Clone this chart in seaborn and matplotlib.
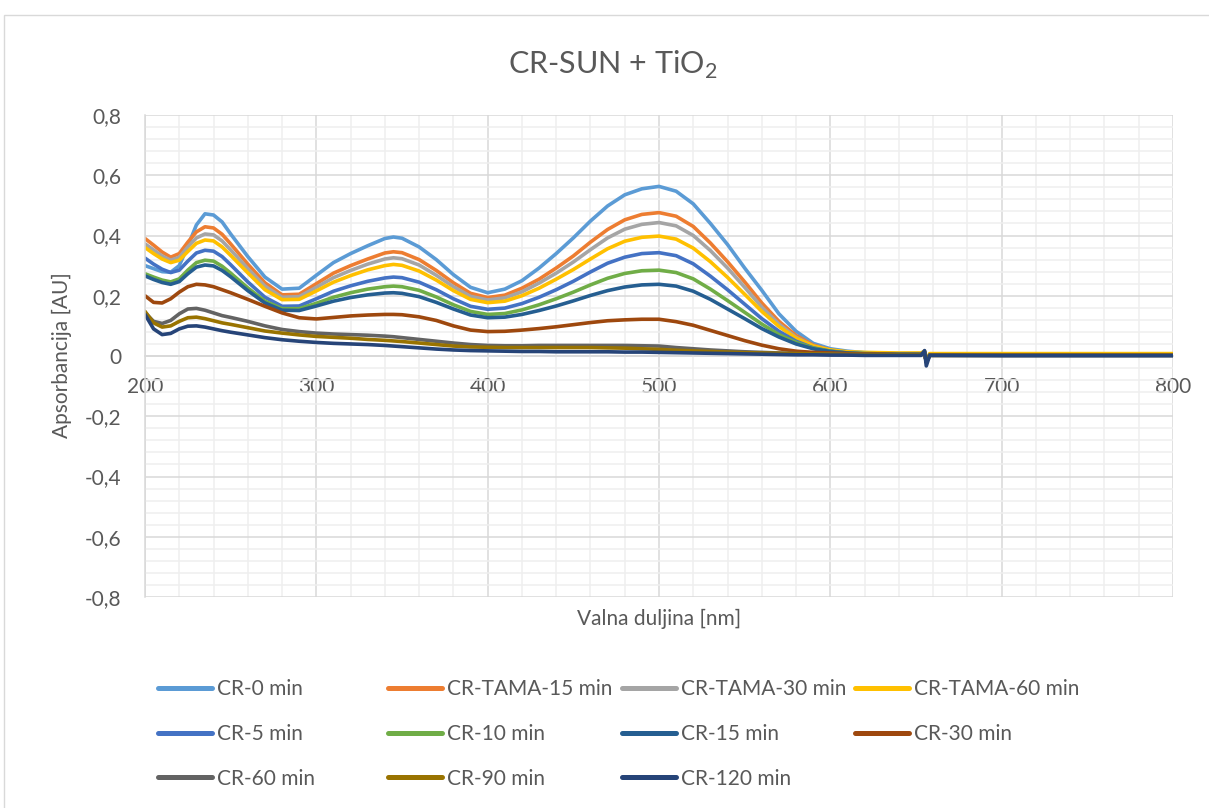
import numpy as np
import pandas as pd
import matplotlib
matplotlib.use("Agg")
import matplotlib.pyplot as plt
from matplotlib.lines import Line2D
from matplotlib.patches import Rectangle
from matplotlib.ticker import MultipleLocator, FixedLocator, FixedFormatter
import seaborn as sns

# ---------------- data ----------------
wavelength = [200, 205, 210, 215, 220, 225, 230, 235, 240, 245, 250,
              260, 270, 280, 290, 300, 310, 320, 330, 340, 345,
              350, 360, 370, 380, 390, 400, 410, 420, 430, 440, 450, 460, 470, 480, 490,
              500, 510, 520, 530, 540, 550, 560, 570, 580, 590, 600, 610, 620,
              640, 653, 655, 656, 658, 700, 750, 800]

cr_0 = [0.300, 0.290, 0.280, 0.278, 0.300, 0.365, 0.435, 0.472, 0.468, 0.445, 0.405,
        0.330, 0.262, 0.222, 0.225, 0.268, 0.310, 0.340, 0.366, 0.390, 0.395,
        0.391, 0.362, 0.320, 0.270, 0.228, 0.210, 0.222, 0.250, 0.292, 0.340, 0.392, 0.448, 0.498, 0.535, 0.555,
        0.563, 0.547, 0.505, 0.440, 0.370, 0.292, 0.218, 0.140, 0.082, 0.042, 0.024, 0.016, 0.011,
        0.008, 0.008, 0.016, -0.020, 0.006, 0.006, 0.006, 0.006]
cr_tama_15 = [0.390, 0.368, 0.345, 0.328, 0.340, 0.378, 0.412, 0.429, 0.425, 0.404, 0.372,
              0.305, 0.243, 0.203, 0.205, 0.240, 0.275, 0.300, 0.322, 0.342, 0.346,
              0.343, 0.320, 0.284, 0.243, 0.208, 0.194, 0.202, 0.225, 0.255, 0.292, 0.332, 0.378, 0.420, 0.452, 0.470,
              0.476, 0.464, 0.430, 0.375, 0.313, 0.246, 0.176, 0.115, 0.068, 0.036, 0.020, 0.012, 0.009,
              0.007, 0.007, 0.014, -0.020, 0.005, 0.005, 0.005, 0.005]
cr_tama_30 = [0.372, 0.352, 0.332, 0.318, 0.328, 0.362, 0.392, 0.405, 0.402, 0.382, 0.352,
              0.290, 0.232, 0.195, 0.197, 0.228, 0.260, 0.284, 0.305, 0.322, 0.326,
              0.323, 0.302, 0.268, 0.230, 0.198, 0.186, 0.193, 0.213, 0.242, 0.275, 0.312, 0.353, 0.392, 0.421, 0.437,
              0.443, 0.432, 0.400, 0.350, 0.292, 0.228, 0.162, 0.106, 0.062, 0.033, 0.019, 0.012, 0.009,
              0.007, 0.007, 0.014, -0.020, 0.005, 0.005, 0.005, 0.005]
cr_tama_60 = [0.360, 0.340, 0.322, 0.310, 0.318, 0.347, 0.374, 0.385, 0.382, 0.362, 0.334,
              0.276, 0.220, 0.187, 0.188, 0.216, 0.245, 0.267, 0.286, 0.300, 0.304,
              0.301, 0.282, 0.252, 0.217, 0.188, 0.177, 0.182, 0.200, 0.225, 0.255, 0.287, 0.322, 0.356, 0.381, 0.394,
              0.398, 0.388, 0.358, 0.313, 0.261, 0.205, 0.148, 0.098, 0.059, 0.033, 0.020, 0.014, 0.012,
              0.010, 0.010, 0.016, -0.015, 0.008, 0.008, 0.008, 0.008]
cr_5 = [0.325, 0.305, 0.288, 0.277, 0.285, 0.315, 0.342, 0.351, 0.348, 0.330, 0.303,
        0.246, 0.195, 0.165, 0.166, 0.190, 0.215, 0.233, 0.248, 0.259, 0.262,
        0.260, 0.245, 0.220, 0.190, 0.165, 0.155, 0.159, 0.174, 0.195, 0.220, 0.248, 0.279, 0.308, 0.328, 0.340,
        0.343, 0.333, 0.306, 0.265, 0.220, 0.172, 0.124, 0.082, 0.049, 0.027, 0.016, 0.010, 0.008,
        0.006, 0.006, 0.013, -0.020, 0.004, 0.004, 0.004, 0.004]
cr_10 = [0.273, 0.262, 0.252, 0.246, 0.256, 0.285, 0.310, 0.318, 0.315, 0.298, 0.275,
         0.226, 0.182, 0.157, 0.157, 0.175, 0.195, 0.210, 0.222, 0.230, 0.232,
         0.230, 0.218, 0.196, 0.170, 0.148, 0.138, 0.141, 0.153, 0.170, 0.190, 0.212, 0.236, 0.258, 0.274, 0.283,
         0.285, 0.277, 0.256, 0.222, 0.184, 0.145, 0.106, 0.071, 0.045, 0.026, 0.016, 0.010, 0.008,
         0.006, 0.006, 0.013, -0.020, 0.004, 0.004, 0.004, 0.004]
cr_15 = [0.266, 0.254, 0.244, 0.238, 0.247, 0.273, 0.295, 0.302, 0.299, 0.284, 0.263,
         0.217, 0.176, 0.152, 0.151, 0.166, 0.182, 0.194, 0.203, 0.209, 0.210,
         0.208, 0.197, 0.178, 0.156, 0.136, 0.127, 0.129, 0.138, 0.151, 0.166, 0.183, 0.201, 0.217, 0.229, 0.236,
         0.238, 0.232, 0.215, 0.188, 0.156, 0.124, 0.091, 0.063, 0.040, 0.024, 0.015, 0.010, 0.007,
         0.005, 0.005, 0.012, -0.020, 0.003, 0.003, 0.003, 0.003]
cr_30 = [0.200, 0.178, 0.176, 0.190, 0.212, 0.230, 0.238, 0.236, 0.230, 0.220, 0.210,
         0.188, 0.165, 0.143, 0.127, 0.123, 0.128, 0.133, 0.136, 0.138, 0.138,
         0.137, 0.130, 0.118, 0.100, 0.086, 0.081, 0.082, 0.086, 0.091, 0.097, 0.104, 0.111, 0.117, 0.120, 0.122,
         0.122, 0.114, 0.102, 0.085, 0.068, 0.051, 0.036, 0.024, 0.016, 0.012, 0.010, 0.008, 0.007,
         0.005, 0.005, 0.012, -0.020, 0.003, 0.003, 0.003, 0.003]
cr_60 = [0.144, 0.115, 0.108, 0.118, 0.140, 0.156, 0.158, 0.152, 0.143, 0.134, 0.128,
         0.115, 0.100, 0.088, 0.081, 0.076, 0.073, 0.071, 0.069, 0.066, 0.064,
         0.061, 0.055, 0.049, 0.043, 0.038, 0.035, 0.034, 0.034, 0.035, 0.035, 0.035, 0.035, 0.035, 0.035, 0.034,
         0.033, 0.028, 0.024, 0.020, 0.017, 0.014, 0.012, 0.010, 0.008, 0.007, 0.006, 0.005, 0.005,
         0.004, 0.004, 0.012, -0.020, 0.002, 0.002, 0.002, 0.002]
cr_90 = [0.148, 0.110, 0.096, 0.100, 0.115, 0.127, 0.129, 0.124, 0.117, 0.110, 0.105,
         0.094, 0.083, 0.076, 0.070, 0.065, 0.062, 0.059, 0.055, 0.052, 0.050,
         0.048, 0.043, 0.038, 0.033, 0.030, 0.029, 0.028, 0.028, 0.028, 0.028, 0.028, 0.028, 0.027, 0.026, 0.024,
         0.022, 0.019, 0.017, 0.015, 0.013, 0.011, 0.010, 0.009, 0.008, 0.007, 0.006, 0.005, 0.005,
         0.004, 0.004, 0.012, -0.020, 0.002, 0.002, 0.002, 0.002]
cr_120 = [0.138, 0.090, 0.071, 0.075, 0.090, 0.099, 0.100, 0.096, 0.090, 0.084, 0.079,
          0.070, 0.061, 0.054, 0.049, 0.045, 0.042, 0.040, 0.038, 0.035, 0.033,
          0.031, 0.027, 0.023, 0.020, 0.018, 0.017, 0.016, 0.015, 0.015, 0.014, 0.014, 0.014, 0.014, 0.013, 0.013,
          0.012, 0.011, 0.010, 0.009, 0.008, 0.007, 0.006, 0.005, 0.004, 0.004, 0.003, 0.003, 0.002,
          0.002, 0.002, 0.018, -0.033, 0.002, 0.001, 0.001, 0.001]

series_names = ["CR-0 min", "CR-TAMA-15 min", "CR-TAMA-30 min", "CR-TAMA-60 min",
                "CR-5 min", "CR-10 min", "CR-15 min", "CR-30 min",
                "CR-60 min", "CR-90 min", "CR-120 min"]
series_values = [cr_0, cr_tama_15, cr_tama_30, cr_tama_60, cr_5, cr_10, cr_15,
                 cr_30, cr_60, cr_90, cr_120]
series_colors = ["#5B9BD5", "#ED7D31", "#A5A5A5", "#FFC000", "#4472C4", "#70AD47",
                 "#255E91", "#9E480E", "#636363", "#997300", "#264478"]

x_ticks = [200, 300, 400, 500, 600, 700, 800]
x_tick_labels = ["200", "300", "400", "500", "600", "700", "800"]
y_ticks = [-0.8, -0.6, -0.4, -0.2, 0.0, 0.2, 0.4, 0.6, 0.8]
y_tick_labels = ["-0,8", "-0,6", "-0,4", "-0,2", "0", "0,2", "0,4", "0,6", "0,8"]

title_text = r"CR-SUN + TiO$_\mathregular{2}$"
x_label = "Valna duljina [nm]"
y_label = "Apsorbancija [AU]"

# ---------------- build long table ----------------
rows = []
for name, vals in zip(series_names, series_values):
    for w, v in zip(wavelength, vals):
        rows.append((name, w, v))
df = pd.DataFrame(rows, columns=["series", "nm", "A"])

# ---------------- style ----------------
sns.set_theme(style="white")
plt.rcParams["font.family"] = ["Lato", "DejaVu Sans"]
plt.rcParams["mathtext.fontset"] = "custom"
plt.rcParams["mathtext.rm"] = "Lato"
TXT = "#595959"
W_PX, H_PX = 1209, 808

fig = plt.figure(figsize=(W_PX / 100, H_PX / 100), dpi=100)
fig.patch.set_facecolor("white")
L, R, T, B = 145, 1173, 115, 597
ax = fig.add_axes([L / W_PX, 1 - B / H_PX, (R - L) / W_PX, (B - T) / H_PX])

palette = dict(zip(series_names, series_colors))
sns.lineplot(data=df, x="nm", y="A", hue="series", hue_order=series_names,
             palette=palette, estimator=None, sort=False, linewidth=2.6,
             legend=False, ax=ax)

ax.set_xlim(200, 800)
ax.set_ylim(-0.8, 0.8)
ax.xaxis.set_major_locator(FixedLocator(x_ticks))
ax.xaxis.set_major_formatter(FixedFormatter(x_tick_labels))
ax.yaxis.set_major_locator(FixedLocator(y_ticks))
ax.yaxis.set_major_formatter(FixedFormatter(y_tick_labels))
ax.xaxis.set_minor_locator(MultipleLocator(20))
ax.yaxis.set_minor_locator(MultipleLocator(0.04))

ax.grid(which="minor", color="#EFEFEF", linewidth=1.1)
ax.grid(which="major", color="#D9D9D9", linewidth=1.1)
ax.set_axisbelow(True)

for s in ["top", "right"]:
    ax.spines[s].set_visible(False)
ax.spines["left"].set_color("#D9D9D9")
ax.spines["left"].set_linewidth(1.1)
ax.spines["bottom"].set_position(("data", 0))
ax.spines["bottom"].set_color("#CFCFCF")
ax.spines["bottom"].set_linewidth(1.1)
ax.spines["bottom"].set_zorder(0.5)

ax.tick_params(axis="both", which="both", length=0, colors=TXT, labelsize=15)
ax.tick_params(axis="x", pad=15)
ax.tick_params(axis="y", pad=17)
ax.set_xlabel("")
ax.set_ylabel("")

fig.text(613 / W_PX, 1 - 65 / H_PX, title_text, ha="center", va="center",
         fontsize=22, color=TXT)
fig.text(659 / W_PX, 1 - 619 / H_PX, x_label, ha="center", va="center",
         fontsize=15, color=TXT)
fig.text(62 / W_PX, 1 - 355 / H_PX, y_label, ha="center", va="center",
         rotation=90, fontsize=15, color=TXT)

# legend: 4 columns placed like the reference, row-major order
col_x = [158, 388, 622, 855]
ncols = 4
for c in range(ncols):
    idx = list(range(c, len(series_names), ncols))
    handles = [Line2D([0], [0], color=series_colors[i], lw=3.6, solid_capstyle="round")
               for i in idx]
    labels = [series_names[i] for i in idx]
    fig.legend(handles, labels, loc="upper left",
               bbox_to_anchor=(col_x[c] / W_PX, 1 - 679 / H_PX),
               frameon=False, fontsize=15, labelcolor=TXT,
               handlelength=2.6, handletextpad=0.25, labelspacing=1.19,
               borderpad=0, borderaxespad=0)

# chart-area border
fig.add_artist(Rectangle((4 / W_PX, -0.05), 1.1, 1 - 15 / H_PX + 0.05,
                         transform=fig.transFigure, fill=False,
                         edgecolor="#D9D9D9", linewidth=1.0))

fig.savefig("out.png", dpi=100)
